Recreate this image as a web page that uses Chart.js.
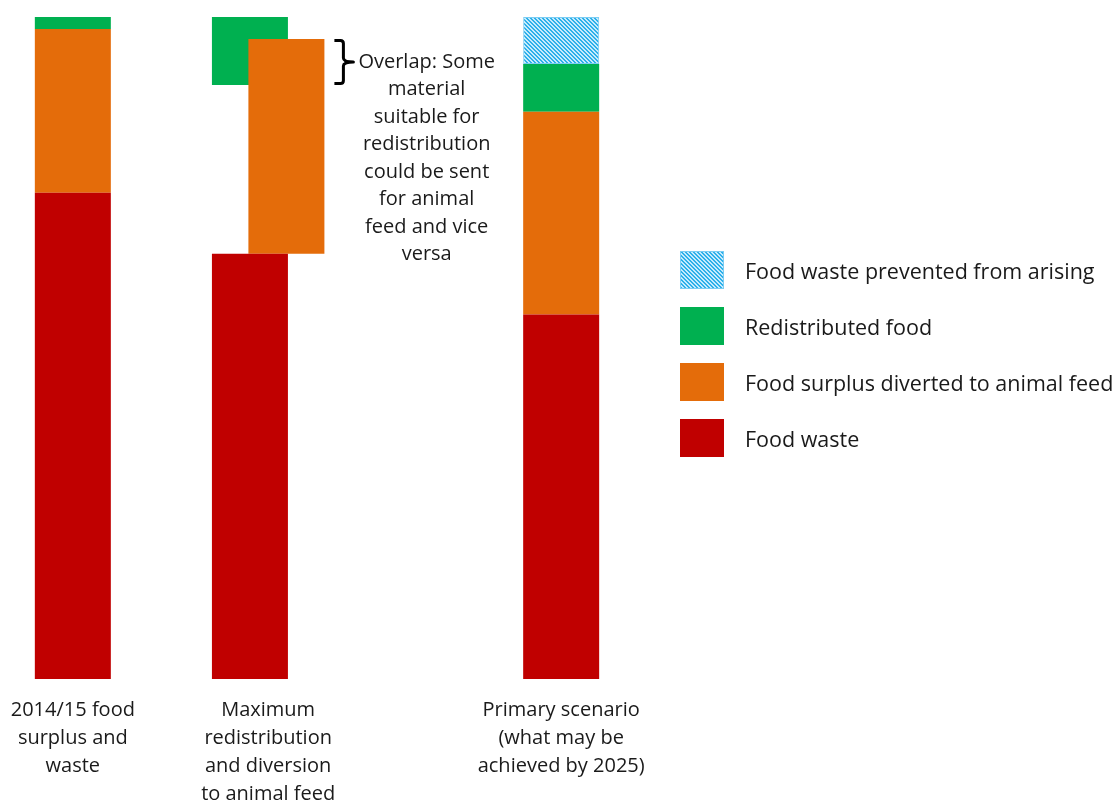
<!DOCTYPE html>
<html>
<head>
<meta charset="utf-8">
<script src="https://cdn.jsdelivr.net/npm/chart.js@4.4.1/dist/chart.umd.min.js"></script>
<style>
  html, body { margin: 0; padding: 0; background: #fff; overflow: hidden; }
  #wrap { position: relative; width: 1115px; height: 800px; }
  #legend { position: absolute; left: 680px; top: 251px; margin: 0; padding: 0; list-style: none;
            font-family: 'Open Sans', sans-serif; font-size: 21.5px; color: #1a1a1a; white-space: nowrap; }
  #legend li { display: flex; align-items: center; height: 38px; margin: 0 0 18px 0; }
  #legend canvas { display: block; width: 44px; height: 38px; margin-right: 21px; }
</style>
</head>
<body>
<div id="wrap">
  <canvas id="chart"></canvas>
  <ul id="legend"></ul>
</div>
<script>
// Scenarios (x-axis labels, one line per entry)
const scenarios = [
  ['2014/15 food', 'surplus and', 'waste'],
  ['Maximum', 'redistribution', 'and diversion', 'to animal feed'],
  ['Primary scenario', '(what may be', 'achieved by 2025)']
];
// Total food surplus and waste in each scenario
const totals = [663, 663, 663];
// Series values per scenario
const foodWaste     = [487, 426, 365];
const animalFeed    = [164, 215, 203];
const redistributed = [12, 68, 48];
const prevented     = [0, 0, 47];

const seriesNames = {
  prevented: 'Food waste prevented from arising',
  redistributed: 'Redistributed food',
  feed: 'Food surplus diverted to animal feed',
  waste: 'Food waste'
};

// Column layout: each scenario occupies one slot of a six-slot band
const SLOT_COUNT = 6;
const scenarioSlot = [0, 2, 5];

const COLORS = { waste: '#C00000', feed: '#E46C0A', redistributed: '#00B050', preventedEdge: '#7ccdf3' };

function hatchPattern() {
  const tile = document.createElement('canvas');
  tile.width = 4; tile.height = 4;
  const g = tile.getContext('2d');
  g.fillStyle = '#c6ebfc';
  g.fillRect(0, 0, 4, 4);
  g.fillStyle = '#2db0ea';
  for (let y = 0; y < 4; y++) {
    for (let x = 0; x < 4; x++) {
      if ((((x - y) % 4) + 4) % 4 < 2) g.fillRect(x, y, 1, 1);
    }
  }
  return g.createPattern(tile, 'repeat');
}
const hatch = hatchPattern();

// A scenario overlaps when its parts add up to more than the total
const overlaps = scenarios.map((_, i) =>
  foodWaste[i] + animalFeed[i] + redistributed[i] + prevented[i] > totals[i]);

function toSlots(fn) {
  const out = new Array(SLOT_COUNT).fill(null);
  scenarios.forEach((_, i) => { out[scenarioSlot[i]] = fn(i); });
  return out;
}

const slotLabels = new Array(SLOT_COUNT).fill('');
scenarios.forEach((s, i) => { slotLabels[scenarioSlot[i]] = s; });

// Lower parts stack up from zero, upper parts stack down from the total
const wasteRange = i => [0, foodWaste[i]];
const feedRange = i => [foodWaste[i], foodWaste[i] + animalFeed[i]];
const redistRange = i => redistributed[i] ? [totals[i] - prevented[i] - redistributed[i], totals[i] - prevented[i]] : null;
const preventedRange = i => prevented[i] ? [totals[i] - prevented[i], totals[i]] : null;

const datasets = [
  { label: seriesNames.waste, stack: 'main', data: toSlots(wasteRange),
    backgroundColor: COLORS.waste },
  { label: seriesNames.feed, stack: 'main', data: toSlots(i => overlaps[i] ? null : feedRange(i)),
    backgroundColor: COLORS.feed },
  { label: seriesNames.feed, stack: 'overlap', data: toSlots(i => overlaps[i] ? feedRange(i) : null),
    backgroundColor: COLORS.feed },
  { label: seriesNames.redistributed, stack: 'main', data: toSlots(redistRange),
    backgroundColor: COLORS.redistributed },
  { label: seriesNames.prevented, stack: 'main', data: toSlots(preventedRange),
    backgroundColor: hatch, borderColor: COLORS.preventedEdge, borderWidth: 1, borderSkipped: false }
];
const OVERLAP_DATASET = 2;

// Bracket and note beside the overlapping part of a bar
const overlapNote = {
  id: 'overlapNote',
  afterDatasetsDraw(chart) {
    const i = overlaps.indexOf(true);
    if (i < 0) return;
    const bar = chart.getDatasetMeta(OVERLAP_DATASET).data[scenarioSlot[i]];
    const { x, width } = bar.getProps(['x', 'width'], true);
    const yScale = chart.scales.y;
    const top = yScale.getPixelForValue(foodWaste[i] + animalFeed[i]) + 1.5;
    const bottom = yScale.getPixelForValue(totals[i] - prevented[i] - redistributed[i]) - 1.5;
    const mid = (top + bottom) / 2;
    const x0 = x + width / 2 + 10;
    const x1 = x0 + 9;
    const tip = x0 + 19;
    const ctx = chart.ctx;
    ctx.save();
    ctx.strokeStyle = '#000';
    ctx.lineWidth = 3;
    ctx.lineJoin = 'round';
    ctx.beginPath();
    ctx.moveTo(x0, top);
    ctx.lineTo(x1 - 3, top);
    ctx.quadraticCurveTo(x1, top, x1, top + 3);
    ctx.lineTo(x1, mid - 4);
    ctx.quadraticCurveTo(x1, mid, tip, mid);
    ctx.quadraticCurveTo(x1, mid, x1, mid + 4);
    ctx.lineTo(x1, bottom - 3);
    ctx.quadraticCurveTo(x1, bottom, x1 - 3, bottom);
    ctx.lineTo(x0, bottom);
    ctx.stroke();

    const lines = ['Overlap: Some', 'material', 'suitable for', 'redistribution',
                   'could be sent', 'for animal', 'feed and vice', 'versa'];
    ctx.font = '20px "Open Sans"';
    ctx.fillStyle = '#1a1a1a';
    ctx.textAlign = 'center';
    ctx.textBaseline = 'middle';
    const cx = tip + 5 + ctx.measureText(lines[0]).width / 2;
    lines.forEach((t, k) => ctx.fillText(t, cx, mid + k * 27.5));
    ctx.restore();
  }
};

const chart = new Chart(document.getElementById('chart'), {
  type: 'bar',
  data: { labels: slotLabels, datasets },
  options: {
    responsive: true,
    maintainAspectRatio: false,
    animation: false,
    layout: { autoPadding: false, padding: { top: 17, left: 24, right: 505, bottom: -25 } },
    datasets: {
      bar: { categoryPercentage: 0.747, barPercentage: 2.2, maxBarThickness: 76, skipNull: true }
    },
    plugins: { legend: { display: false }, tooltip: { enabled: false } },
    scales: {
      x: {
        grid: { display: false, drawTicks: false },
        border: { display: false },
        ticks: {
          autoSkip: false, maxRotation: 0, padding: 17, color: '#1a1a1a',
          font: { family: 'Open Sans', size: 20, lineHeight: 1.4 }
        },
        // the outer labels may extend past the plot edges; keep the plot width fixed
        afterFit(scale) { scale.paddingLeft = 0; scale.paddingRight = 0; }
      },
      y: { display: false, stacked: false, min: 0, max: 663 }
    }
  },
  plugins: [overlapNote]
});

// Legend built from the chart's own legend items, top series first
const legendEl = document.getElementById('legend');
const seen = new Set();
chart.options.plugins.legend.labels.generateLabels(chart).reverse().forEach(item => {
  if (seen.has(item.text)) return;
  seen.add(item.text);
  const li = document.createElement('li');
  const sw = document.createElement('canvas');
  sw.width = 44; sw.height = 38;
  const g = sw.getContext('2d');
  g.fillStyle = item.fillStyle;
  g.fillRect(0, 0, 44, 38);
  if (item.lineWidth) {
    g.strokeStyle = item.strokeStyle;
    g.lineWidth = 1;
    g.strokeRect(0.5, 0.5, 43, 37);
  }
  li.appendChild(sw);
  li.appendChild(document.createTextNode(item.text));
  legendEl.appendChild(li);
});
</script>
</body>
</html>
